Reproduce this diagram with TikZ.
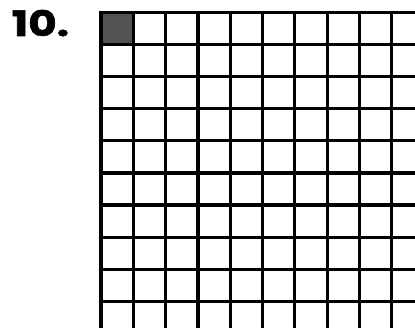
\documentclass[tikz,border=0pt]{standalone}
\usepackage{fontspec}
\newfontfamily\numfont[FakeBold=1.5]{Poppins}
\tikzset{gridline/.style={line width=3.2pt, black},
  shadecell/.style={fill=black!68, draw=none},
  numlabel/.style={font=\numfont\bfseries\fontsize{35}{35}\selectfont, inner sep=0pt, anchor=base west, xscale=1.25}}
\begin{document}
\begin{tikzpicture}[x=1pt,y=-1pt]
\useasboundingbox (0,0) rectangle (415,328);
\clip (0,0) rectangle (415,328);
\fill[shadecell] (101,12.5) rectangle (134,45);
\foreach \i in {0,...,10} {
  \draw[gridline] (101+32.3*\i,11) -- (101+32.3*\i,330);
  \draw[gridline] (99.5,12.5+32.1*\i) -- (420,12.5+32.1*\i);
}
\node[numlabel] (num) at (11.5,36) {10.};
\end{tikzpicture}
\end{document}
